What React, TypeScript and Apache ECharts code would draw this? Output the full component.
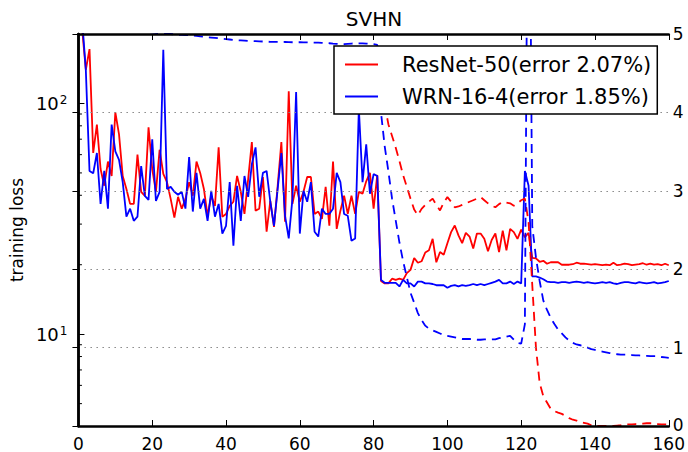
import React, { useEffect, useRef } from 'react';
import * as echarts from 'echarts';

const FONT = 'DejaVu Sans';
const nameResNet = 'ResNet-50(error 2.07%)';
const nameWRN = 'WRN-16-4(error 1.85%)';

// epochs 0..160
const epochs: number[] = Array.from({ length: 161 }, (_, i) => i);

// training loss (left, log axis)
const lossResNet = [
  300, 210, 140, 172, 61, 81, 52, 44, 56, 48.5,
  91.5, 73.5, 48.5, 42.6, 36.7, 36.7, 60, 41.4, 39.8, 78.8,
  52, 41.4, 63, 49.5, 45.6, 38.6, 32, 39.4, 35, 38.6,
  45.6, 39.8, 56, 50, 42.6, 32.6, 39.8, 36, 64.5, 32.3,
  33.2, 36, 37.5, 48.5, 41.4, 33.2, 47, 68, 34.3, 35,
  48, 27.8, 37.8, 29.2, 44, 68, 30.7, 113, 36.7, 44,
  37.5, 41.4, 48, 48, 33.2, 34, 31.6, 43.5, 29.5, 56,
  28.6, 34.3, 39.8, 33.2, 39.8, 33.2, 41.4, 40.6, 46, 50,
  35, 49, 17.0, 16.6, 16.6, 17.4, 17.2, 17.4, 17.2, 18.4,
  19.0, 21.4, 20.4, 20.7, 22.6, 23.1, 25.9, 20.5, 22.7, 22.1,
  24.8, 27.7, 29.6, 26.8, 24.8, 27.5, 26.5, 23.5, 27.3, 27.3,
  25.9, 22.9, 25.6, 27.3, 22.7, 28.1, 23.1, 28.6, 27.7, 25.9,
  28.4, 26.3, 27.5, 21.4, 21.3, 20.6, 20.8, 20.2, 20.5, 20.5,
  20.5, 20.0, 20.0, 20.0, 20.1, 20.4, 20.2, 20.2, 20.1, 20.0,
  20.1, 20.0, 19.9, 20.0, 19.9, 20.4, 19.9, 20.0, 20.2, 20.1,
  19.9, 20.0, 20.1, 20.3, 20.0, 20.2, 20.0, 20.1, 19.9, 20.2, 19.9,
];

const lossWRN = [
  400, 230, 140, 51, 49.8, 61, 36.7, 51, 35, 81,
  62, 57, 45.6, 32.3, 35, 31, 32.3, 53.5, 39.8, 38.2,
  70, 37.8, 41.4, 171, 42.6, 43.5, 41.4, 40.2, 41.4, 35,
  58.5, 34, 50, 35, 38.6, 31, 41.8, 32.3, 36.7, 27.3,
  29.5, 45.6, 24.2, 44, 31, 48.5, 39.4, 54.5, 64.5, 39.4,
  50, 51, 37.5, 29.5, 42.6, 61, 32.6, 26, 38.6, 112,
  27.3, 41.8, 37.5, 45.6, 27.8, 26.5, 35, 33.2, 33.2, 35,
  50, 45.6, 33.2, 32.6, 25.4, 26, 95, 45.6, 66.5, 40.6,
  49.4, 48.5, 17.2, 16.7, 16.7, 16.7, 16.7, 16.1, 17.2, 16.6,
  16.6, 16.1, 16.9, 16.9, 16.6, 16.6, 16.5, 16.3, 16.3, 16.3,
  15.9, 16.2, 16.3, 16.1, 16.3, 16.2, 16.3, 16.5, 16.3, 16.5,
  16.3, 16.5, 16.7, 16.9, 17.2, 16.6, 16.6, 16.9, 16.5, 16.9,
  16.6, 51, 44, 17.8, 17.8, 17.6, 17.3, 16.9, 16.8, 16.8,
  16.7, 16.8, 16.8, 16.7, 16.8, 16.9, 16.8, 16.7, 16.8, 16.7,
  16.6, 16.7, 16.8, 16.7, 16.8, 16.6, 16.5, 16.7, 16.8, 16.8,
  16.7, 16.6, 16.8, 16.7, 16.6, 16.7, 16.8, 16.6, 16.7, 16.8, 17.0,
];

// test error (right axis, dashed)
const errResNet: (number | null)[] = [
  null, null, null, null, null, null, null, null, null, null,
  null, null, null, null, null, null, null, null, null, null,
  null, null, null, null, null, null, null, null, null, null,
  null, null, null, null, null, null, null, null, null, null,
  null, null, null, null, null, null, null, null, null, null,
  null, null, null, null, null, null, null, null, null, null,
  null, null, null, null, null, null, null, null, null, null,
  null, null, null, null, null, null, null, null, null, null,
  null, null, 4.3, 4.1, 3.85, 3.7, 3.55, 3.38, 3.2, 3.05,
  2.9, 2.76, 2.69, 2.77, 2.82, 2.86, 2.9, 2.82, 2.75, 2.85,
  2.92, 2.86, 2.79, 2.8, 2.82, 2.84, 2.86, 2.88, 2.9, 2.92,
  2.88, 2.84, 2.81, 2.79, 2.83, 2.86, 2.85, 2.84, 2.81, 2.84,
  2.88, 2.9, 2.6, 1.8, 1.0, 0.55, 0.38, 0.3, 0.22, 0.19,
  0.17, 0.155, 0.13, 0.1, 0.08, 0.07, 0.05, 0.04, 0.03, 0.01,
  0.0, 0.0, 0.0, 0.0, 0.0, 0.0, 0.005, 0.01, 0.02, 0.02,
  0.02, 0.025, 0.03, 0.03, 0.035, 0.035, 0.03, 0.025, 0.02, 0.02, 0.02,
];

const errWRN = [
  5.6, 5.5, 5.4, 5.35, 5.3, 5.25, 5.2, 5.17, 5.14, 5.12,
  5.1, 5.09, 5.08, 5.07, 5.06, 5.05, 5.04, 5.035, 5.03, 5.025,
  5.02, 5.015, 5.01, 5.005, 5.0, 5.0, 4.995, 4.99, 4.99, 4.985,
  4.985, 4.98, 4.975, 4.97, 4.965, 4.96, 4.955, 4.95, 4.945, 4.94,
  4.935, 4.93, 4.925, 4.92, 4.918, 4.915, 4.912, 4.91, 4.908, 4.906,
  4.904, 4.902, 4.9, 4.9, 4.9, 4.9, 4.898, 4.896, 4.895, 4.895,
  4.895, 4.894, 4.893, 4.892, 4.891, 4.89, 4.888, 4.885, 4.882, 4.878,
  4.875, 4.872, 4.872, 4.875, 4.878, 4.88, 4.88, 4.88, 4.878, 4.876,
  4.87, 4.86, 4.0, 3.57, 3.25, 2.9, 2.62, 2.34, 2.1, 1.9,
  1.7, 1.57, 1.44, 1.35, 1.28, 1.24, 1.22, 1.2, 1.18, 1.16,
  1.15, 1.14, 1.13, 1.12, 1.11, 1.11, 1.11, 1.105, 1.1, 1.1,
  1.105, 1.105, 1.105, 1.105, 1.12, 1.13, 1.14, 1.15, 1.1, 1.06,
  1.05, 1.3, 9, 2.55, 2.15, 1.85, 1.6, 1.48, 1.38, 1.3,
  1.23, 1.18, 1.13, 1.09, 1.06, 1.04, 1.03, 1.02, 1.0, 0.98,
  0.97, 0.96, 0.95, 0.94, 0.93, 0.92, 0.915, 0.91, 0.91, 0.91,
  0.905, 0.9, 0.9, 0.895, 0.895, 0.89, 0.89, 0.89, 0.88, 0.875, 0.87,
];

// log-axis minor tick positions
const minorTicks = [5, 6, 7, 8, 9, 20, 30, 40, 50, 60, 70, 80, 90];

const pair = (ys: (number | null)[]) => epochs.map((e, i) => [e, ys[i]]);

export default function App() {
  const ref = useRef<HTMLDivElement>(null);
  useEffect(() => {
    if (!ref.current) return;
    const chart = echarts.init(ref.current, undefined, { renderer: 'svg' });
    const axisLine = { show: true, lineStyle: { color: '#000', width: 2.5 } };
    const tick = { show: true, inside: true, length: 6, lineStyle: { color: '#000', width: 1 } };
    chart.setOption({
      animation: false,
      backgroundColor: '#fff',
      textStyle: { fontFamily: FONT },
      grid: { left: 78, top: 34, width: 592, height: 395, show: false },
      graphic: [
        {
          type: 'text',
          x: 374,
          y: 19,
          z: 50,
          style: {
            text: 'SVHN',
            font: `20px "${FONT}"`,
            fill: '#000',
            align: 'center',
            verticalAlign: 'middle',
            textAlign: 'center',
            textVerticalAlign: 'middle',
          },
        },
      ],
      legend: {
        data: [{ name: nameResNet }, { name: nameWRN }],
        orient: 'vertical',
        left: 334,
        top: 46,
        z: 30,
        icon: 'rect',
        itemWidth: 33,
        itemHeight: 2,
        itemGap: 7,
        padding: [6, 6, 5, 11],
        backgroundColor: '#fff',
        borderColor: '#000',
        borderWidth: 1.5,
        borderRadius: 0,
        selectedMode: false,
        textStyle: { fontSize: 21, fontFamily: FONT, color: '#000', lineHeight: 25, padding: [0, 0, 0, 19] },
      },
      xAxis: [
        {
          type: 'value', min: 0, max: 160, interval: 20, position: 'bottom',
          axisLine, axisTick: tick, z: 10,
          axisLabel: { color: '#000', fontSize: 17, fontFamily: FONT, margin: 10, lineHeight: 15 },
          splitLine: { show: false },
        },
        {
          type: 'value', min: 0, max: 160, interval: 20, position: 'top',
          axisLine, axisTick: tick, z: 10,
          axisLabel: { show: false },
          splitLine: { show: false },
        },
      ],
      yAxis: [
        {
          type: 'log', logBase: 10, min: 4, max: 200, position: 'left',
          axisLine, axisTick: tick, z: 10,
          splitLine: { show: false },
          axisLabel: {
            margin: 11,
            formatter: (v: number) => {
              const e = Math.log10(v);
              const r = Math.round(e);
              if (Math.abs(e - r) < 1e-6 && (r === 1 || r === 2)) return `{b|10}{s|${r}}`;
              return '';
            },
            rich: {
              b: { fontSize: 18, fontFamily: FONT, color: '#000', verticalAlign: 'bottom', lineHeight: 18 },
              s: { fontSize: 12, fontFamily: FONT, color: '#000', verticalAlign: 'top', lineHeight: 12, padding: [0, 0, 10, 1] },
            },
          },
          name: 'training loss',
          nameLocation: 'middle',
          nameRotate: 90,
          nameGap: 50,
          nameTextStyle: { fontSize: 17, fontFamily: FONT, color: '#000' },
        },
        {
          type: 'value', min: 0, max: 5, interval: 1, position: 'right',
          axisLine, axisTick: tick, z: 10,
          axisLabel: {
            color: '#000', fontSize: 17, fontFamily: FONT, margin: 4, lineHeight: 15,
            formatter: (v: number) => (v === 0 ? '{lo|0}' : String(v)),
            rich: { lo: { fontSize: 17, fontFamily: FONT, color: '#000', lineHeight: 15, padding: [0, 0, 2, 0] } },
          },
          splitLine: { show: true, lineStyle: { color: '#888', type: [1.5, 4.5], width: 1.2 } },
        },
      ],
      series: [
        {
          type: 'line', name: nameResNet, data: pair(lossResNet), xAxisIndex: 0, yAxisIndex: 0,
          symbol: 'none', color: '#ff0000', lineStyle: { color: '#ff0000', width: 1.8 }, z: 2,
        },
        {
          type: 'line', name: nameWRN, data: pair(lossWRN), xAxisIndex: 0, yAxisIndex: 0,
          symbol: 'none', color: '#0000ff', lineStyle: { color: '#0000ff', width: 1.8 }, z: 2,
        },
        {
          type: 'line', name: 'ResNet-50 error', data: pair(errResNet), xAxisIndex: 0, yAxisIndex: 1,
          symbol: 'none', color: '#ff0000', connectNulls: false,
          lineStyle: { color: '#ff0000', width: 1.8, type: [9, 6] }, z: 2,
        },
        {
          type: 'line', name: 'WRN-16-4 error', data: pair(errWRN), xAxisIndex: 0, yAxisIndex: 1,
          symbol: 'none', color: '#0000ff',
          lineStyle: { color: '#0000ff', width: 1.8, type: [9, 6] }, z: 2,
        },
        {
          type: 'custom', name: 'minor ticks', xAxisIndex: 0, yAxisIndex: 0, silent: true, z: 3,
          data: minorTicks.map((v) => [0, v]),
          renderItem: (params: any, api: any) => {
            const p = api.coord([0, api.value(1)]);
            return {
              type: 'line',
              shape: { x1: p[0], y1: p[1], x2: p[0] + 3.5, y2: p[1] },
              style: { stroke: '#000', lineWidth: 1 },
            };
          },
        },
      ],
    });
    return () => chart.dispose();
  }, []);
  return <div ref={ref} style={{ position: 'fixed', left: 0, top: 0, width: 688, height: 452 }} />;
}
